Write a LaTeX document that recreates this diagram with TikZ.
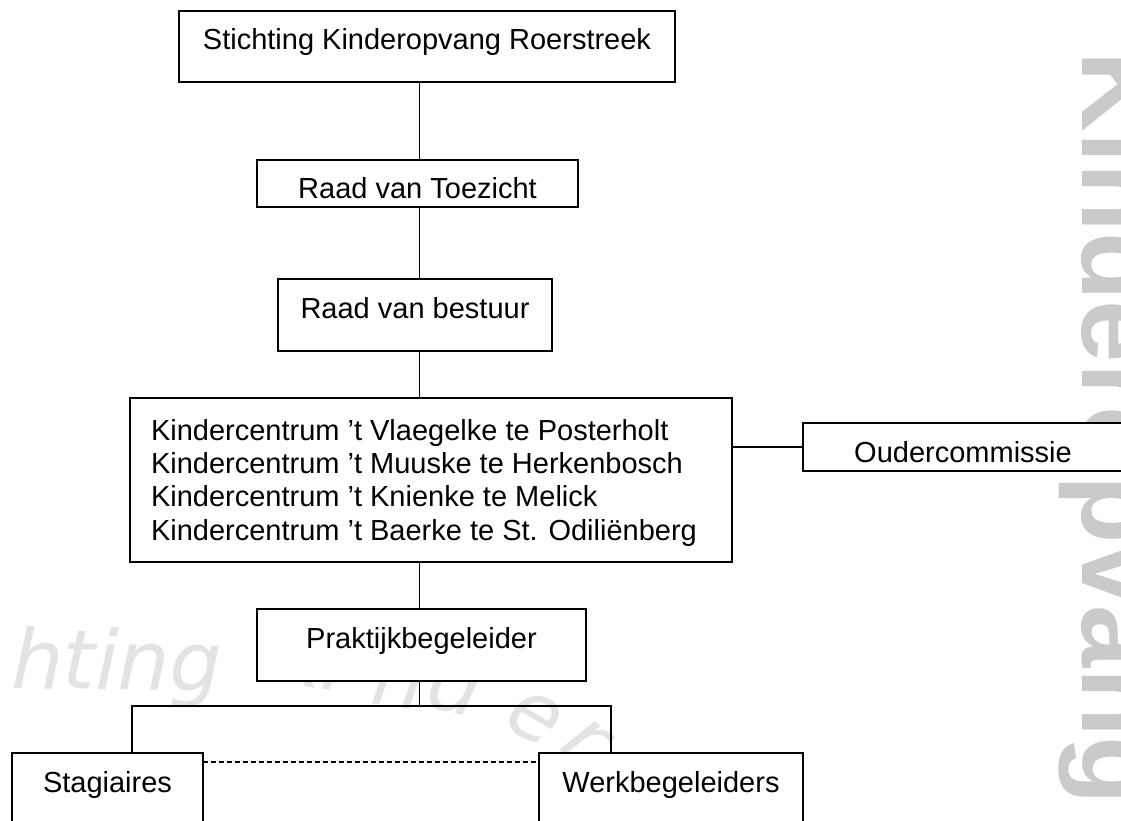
\documentclass[tikz,border=0pt]{standalone}
\usepackage{fontspec}
\setmainfont{Liberation Sans}
\newfontfamily\wmfont{DejaVu Sans}
\definecolor{wmright}{RGB}{202,202,202}
\definecolor{wmleft}{RGB}{227,227,227}
\tikzset{
  box/.style={draw=black, line width=1.5pt, fill=white, rectangle, inner sep=0pt, outer sep=0pt},
  lbl/.style={inner sep=0pt, outer sep=0pt, font=\fontsize{29pt}{33.3pt}\selectfont},
  conn/.style={draw=black, line width=1.3pt},
  dashconn/.style={conn, dash pattern=on 5pt off 3pt},
  wmR/.style={rotate=-90, inner sep=0pt, outer sep=0pt, text=wmright, font=\bfseries\fontsize{112pt}{112pt}\selectfont},
  wmL/.style={inner sep=0pt, outer sep=0pt, text=wmleft, font=\wmfont\itshape\fontsize{82pt}{82pt}\selectfont}
}
\begin{document}
\begin{tikzpicture}[x=1pt,y=-1pt]
\useasboundingbox (0,0) rectangle (1121,821);
\begin{scope}
\clip (0,0) rectangle (1121,821);
\fill[white] (0,0) rectangle (1121,821);
% watermarks
\node[wmR, anchor=base west] (wmk) at (1082,52) {Kinderopvang};
\node[wmR, anchor=base east] (wms) at (1082,5) {Stichting};
\node[wmL, anchor=base west, rotate=-1] (wl1) at (11,688) {hting};
\node[wmL, anchor=base west, rotate=-9] (wl2) at (266,680) {Ki};
\node[wmL, anchor=base, rotate=-8] (wl3) at (395,707) {n};
\node[wmL, anchor=base, rotate=-14] (wl4) at (449,712) {d};
\node[wmL, anchor=center, rotate=-30] (wl5) at (535,718) {e};
\node[wmL, anchor=center, rotate=-40] (wl6) at (585,742) {r};
% boxes
\node[box, minimum width=496pt, minimum height=71pt] (b1) at (427,46.5) {};
\node[box, minimum width=321pt, minimum height=47pt] (b2) at (417.5,183.5) {};
\node[box, minimum width=274pt, minimum height=72pt] (b3) at (415,315) {};
\node[box, minimum width=602pt, minimum height=164pt] (b4) at (431,480) {};
\node[box, minimum width=320pt, minimum height=48pt] (ou) at (963,447) {};
\node[box, minimum width=329pt, minimum height=72pt] (pr) at (421.5,645) {};
\node[box, minimum width=191pt, minimum height=90pt] (st) at (107.5,798) {};
\node[box, minimum width=264pt, minimum height=90pt] (wb) at (671,798) {};
% labels
\node[lbl, anchor=base] (t1) at ([yshift=-39pt]b1.north) {Stichting Kinderopvang Roerstreek};
\node[lbl, anchor=base] (t2) at ([yshift=-38.5pt]b2.north) {Raad van Toezicht};
\node[lbl, anchor=base] (t3) at ([yshift=-39pt]b3.north) {Raad van bestuur};
\node[lbl, anchor=base west] (k1) at (151,440) {Kindercentrum ’t Vlaegelke te Posterholt};
\node[lbl, anchor=base west] (k2) at (151,473.3) {Kindercentrum ’t Muuske te Herkenbosch};
\node[lbl, anchor=base west] (k3) at (151,506.6) {Kindercentrum ’t Knienke te Melick};
\node[lbl, anchor=base west] (k4) at (151,540) {Kindercentrum ’t Baerke te St. Odiliënberg};
\node[lbl, anchor=base] (to) at ([yshift=-39pt]ou.north) {Oudercommissie};
\node[lbl, anchor=base] (tp) at ([yshift=-39pt]pr.north) {Praktijkbegeleider};
\node[lbl, anchor=base] (ts) at ([yshift=-39pt]st.north) {Stagiaires};
\node[lbl, anchor=base] (tw) at ([yshift=-39pt]wb.north) {Werkbegeleiders};
% connectors
\coordinate (sp) at (419.5,0);
\coordinate (hL) at (132,706);
\coordinate (hR) at (611,706);
\coordinate (dy) at (0,762);
\draw[conn] (b1.south -| sp) -- (b2.north -| sp);
\draw[conn] (b2.south -| sp) -- (b3.north -| sp);
\draw[conn] (b3.south -| sp) -- (b4.north -| sp);
\draw[conn] (b4.south -| sp) -- (pr.north -| sp);
\draw[conn] (pr.south -| sp) -- (hL -| sp);
\draw[conn] (st.north -| hL) -- (hL) -- (hR) -- (wb.north -| hR);
\draw[conn] (b4.east |- ou.west) -- (ou.west);
\draw[dashconn] (st.east |- dy) -- (wb.west |- dy);
\end{scope}
\end{tikzpicture}
\end{document}
